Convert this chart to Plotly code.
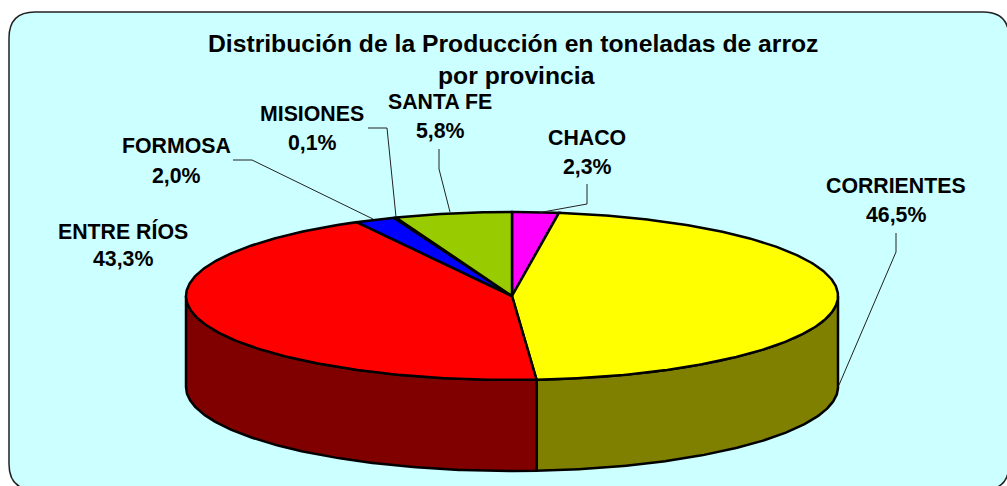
import numpy as np
import plotly.graph_objects as go

# --- data (clockwise from 12 o'clock) ---
provincias = ["CHACO", "CORRIENTES", "ENTRE RÍOS", "FORMOSA", "MISIONES", "SANTA FE"]
porcentajes = [2.3, 46.5, 43.3, 2.0, 0.1, 5.8]
colores_tapa = ["#FF00FF", "#FFFF00", "#FF0000", "#0000FF", "#00FFFF", "#99CC00"]
colores_lado = ["#800080", "#808000", "#800000", "#000080", "#008080", "#4D6600"]
titulo = ["Distribución de la Producción en toneladas de arroz", "por provincia"]

# --- layout constants (pixel-aligned axes) ---
W, H = 1007, 486
CX, CY, A, B, DEPTH = 512, 296, 326, 84, 91
INK = "#000000"
LABEL_POS = {  # centre x, y of first line, y of second line
    "CHACO": (587, 138, 167), "CORRIENTES": (896, 186, 215), "ENTRE RÍOS": (123, 231, 259),
    "FORMOSA": (176, 146, 176), "MISIONES": (312, 114, 143), "SANTA FE": (440, 102, 131),
}
LEADERS = {
    "CHACO": [(587, 184), (587, 204), (540, 212.5)],
    "CORRIENTES": [(896, 233), (896, 252), (839, 385)],
    "FORMOSA": [(233, 160), (252, 160), (373, 219)],
    "MISIONES": [(368, 128), (387, 128), (396, 217)],
    "SANTA FE": [(439, 149), (439, 169), (450, 212)],
}


def rim(t, dy=0.0):
    """Point(s) on the ellipse for clockwise angle t (radians from the top)."""
    return CX + A * np.sin(t), CY - B * np.cos(t) + dy


fig = go.Figure()

# background panel with rounded corners, running off the right and bottom edge
L, T, R, Bt, r = 9, 12, 1009, 490, 26
fig.add_shape(
    type="path", xref="x", yref="y", layer="below",
    path=(f"M {L+r} {T} L {R-r} {T} Q {R} {T} {R} {T+r} L {R} {Bt-r} Q {R} {Bt} {R-r} {Bt} "
          f"L {L+r} {Bt} Q {L} {Bt} {L} {Bt-r} L {L} {T+r} Q {L} {T} {L+r} {T} Z"),
    fillcolor="#CCFFFF", line=dict(color="#222222", width=1.5),
)

total = sum(porcentajes)
bordes = np.cumsum([0] + porcentajes) / total * 2 * np.pi

# side walls (only the front half of the drum is visible)
for i, nombre in enumerate(provincias):
    a0, a1 = max(bordes[i], np.pi / 2), min(bordes[i + 1], 3 * np.pi / 2)
    if a1 <= a0:
        continue
    t = np.linspace(a0, a1, 160)
    xt, yt = rim(t)
    xb, yb = rim(t[::-1], DEPTH)
    fig.add_trace(go.Scatter(
        x=np.r_[xt, xb, xt[0]], y=np.r_[yt, yb, yt[0]], mode="lines", fill="toself",
        fillcolor=colores_lado[i], line=dict(color=INK, width=2.5), hoverinfo="skip", showlegend=False,
    ))

# top faces
for i, nombre in enumerate(provincias):
    t = np.linspace(bordes[i], bordes[i + 1], max(4, int(porcentajes[i] * 6)))
    xt, yt = rim(t)
    fig.add_trace(go.Scatter(
        x=np.r_[CX, xt, CX], y=np.r_[CY, yt, CY], mode="lines", fill="toself",
        fillcolor=colores_tapa[i], line=dict(color=INK, width=2.5), name=nombre,
        hoverinfo="skip", showlegend=False,
    ))

# leader lines
for nombre, pts in LEADERS.items():
    fig.add_trace(go.Scatter(
        x=[p[0] for p in pts], y=[p[1] for p in pts], mode="lines",
        line=dict(color="#222222", width=1), hoverinfo="skip", showlegend=False,
    ))


def text(x, y, s, size):
    fig.add_annotation(
        x=x, y=y, xref="x", yref="y", text=f"<b>{s}</b>", showarrow=False, xanchor="center",
        yanchor="middle", font=dict(family="Liberation Sans", size=size, color="#000000"),
    )


text(512.5, 43, titulo[0], 24.7)
text(516, 75, titulo[1], 24.7)
for nombre, pct in zip(provincias, porcentajes):
    x, y1, y2 = LABEL_POS[nombre]
    text(x, y1, nombre, 21.3)
    text(x, y2, f"{pct:.1f}%".replace(".", ","), 21.3)

fig.update_layout(
    width=W, height=H, margin=dict(l=0, r=0, t=0, b=0), paper_bgcolor="white", plot_bgcolor="white",
    xaxis=dict(range=[0, W], visible=False, fixedrange=True),
    yaxis=dict(range=[H, 0], visible=False, fixedrange=True),
    showlegend=False,
)
fig.write_html(
    "out.html", config={"displayModeBar": False},
    post_script="document.body.style.margin='0';document.body.style.overflow='hidden';",
)
